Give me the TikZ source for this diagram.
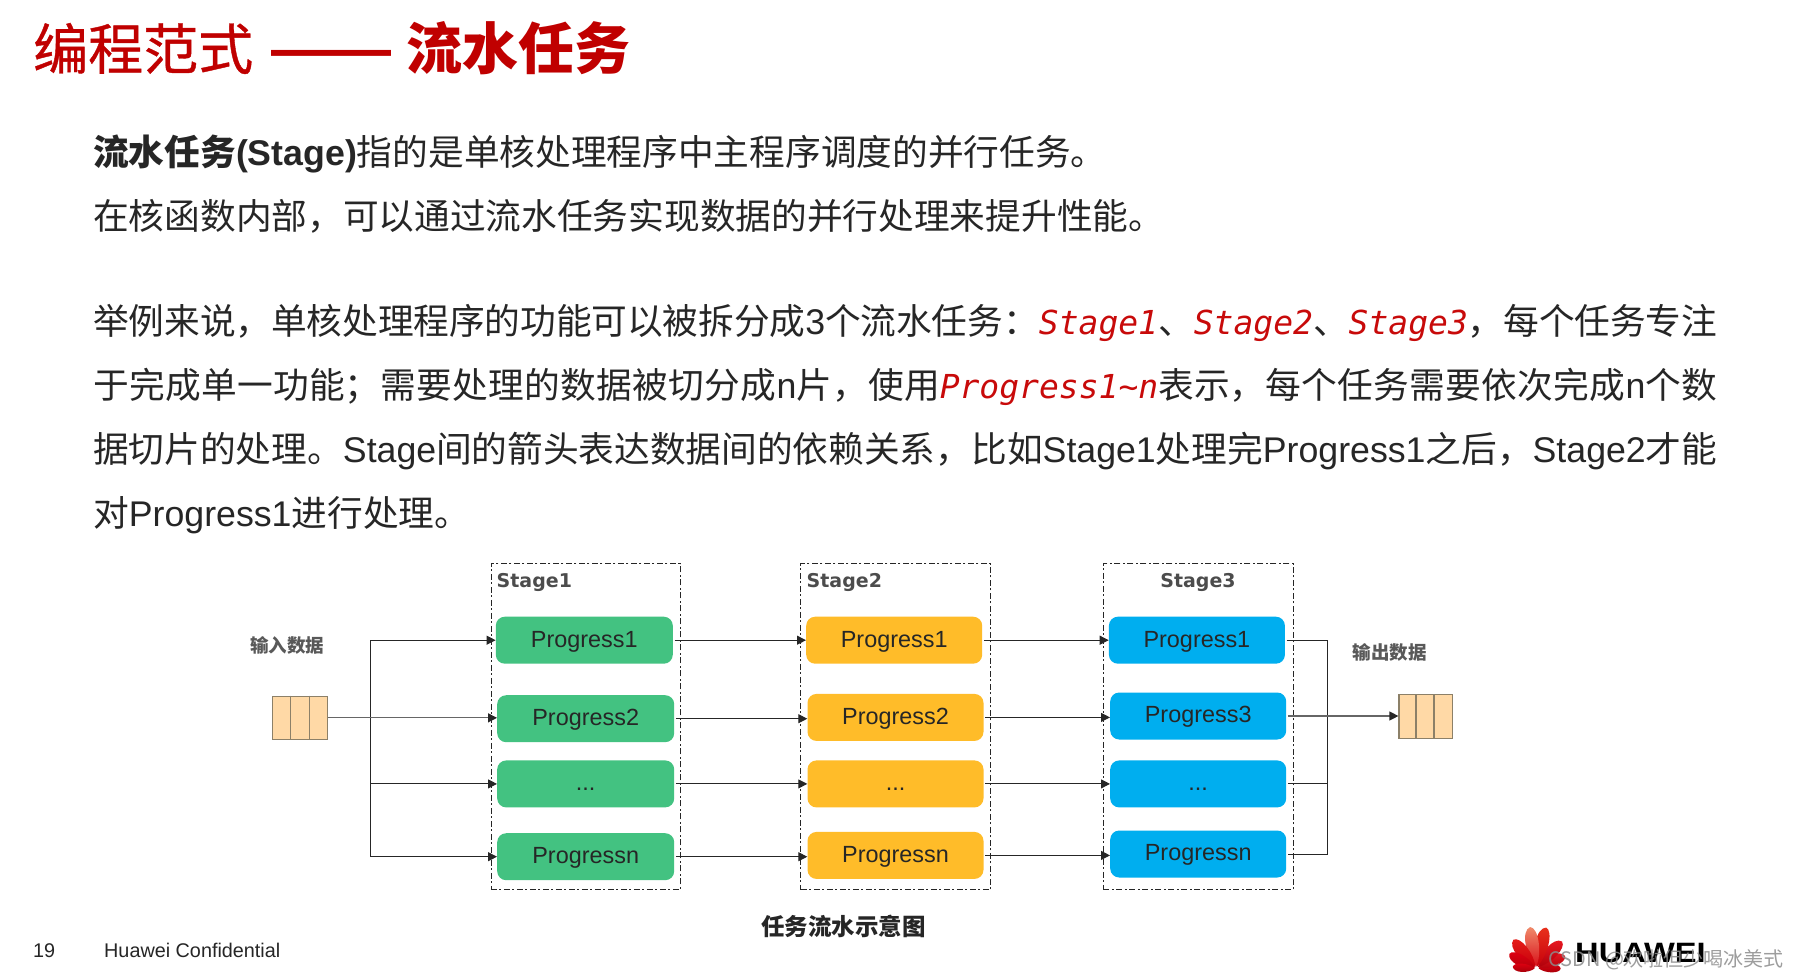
\documentclass[tikz,border=0pt]{standalone}
\usepackage{fontspec}
\usetikzlibrary{arrows.meta,calc}
\setmainfont{Noto Sans CJK SC}
\newfontfamily\latinf{Liberation Sans}
\newfontfamily\stagef{DejaVu Sans}
\newfontfamily\codef{DejaVu Sans Mono}
\newfontfamily\titlef[FakeBold=0.7]{Noto Sans CJK SC}
\XeTeXlinebreaklocale "zh"
\XeTeXlinebreakskip=0pt plus 3pt minus 1pt
\newcommand{\lt}[1]{{\latinf #1}}
\newcommand{\cod}[1]{{\codef\itshape\color{codered}\fontsize{33}{33}\selectfont #1}}
\newcommand{\just}[1]{\parbox[b]{1624pt}{\parfillskip=0pt #1}}
\definecolor{titlered}{HTML}{C00000}
\definecolor{codered}{HTML}{C80A0A}
\definecolor{bodyk}{HTML}{262626}
\definecolor{greenp}{HTML}{43C281}
\definecolor{yellowp}{HTML}{FFBC29}
\definecolor{bluep}{HTML}{00AEEF}
\definecolor{queuef}{HTML}{FFD9A6}
\definecolor{queued}{HTML}{8C8068}
\tikzset{
 x=1pt,y=-1pt,
 bodyline/.style={anchor=base west,inner sep=0pt,text=bodyk,font=\fontsize{35.7}{35.7}\selectfont},
 stagebox/.style={draw=black!85,line width=0.9pt,dash pattern=on 6pt off 2.5pt on 2pt off 2.5pt,inner sep=0pt,anchor=north west},
 prog/.style={rounded corners=9pt,inner sep=0pt,anchor=north west,text=black!85,text height=16.5pt,text depth=2.6pt,font=\latinf\fontsize{23.4}{23.4}\selectfont},
 stagelab/.style={inner sep=0pt,text=black!70,font=\stagef\bfseries\fontsize{19}{19}\selectfont},
 sidelab/.style={inner sep=0pt,text=black!65,font=\bfseries\fontsize{18.5}{19}\selectfont},
 conn/.style={draw=black!85,line width=1pt,-{Triangle[length=9pt,width=9pt,color=black!85]}},
 gconn/.style={draw=black!60,line width=1.2pt,-{Triangle[length=9pt,width=9pt,color=black!85]}},
 bus/.style={draw=black!85,line width=1pt},
 queue/.style={draw=queued,fill=queuef,line width=1.2pt,anchor=north west,inner sep=0pt},
 qdiv/.style={draw=queued,line width=1.2pt},
 foot/.style={anchor=base west,inner sep=0pt,text=black!85,font=\latinf\fontsize{19.8}{20}\selectfont},
}
\newcommand{\prognode}[6]{\node[prog,fill=#2,minimum width=#5pt,minimum height=47pt] (#1) at (#3,#4) {#6};}
\begin{document}
\begin{tikzpicture}
\useasboundingbox (0,0) rectangle (1797,980);
\fill[white] (0,0) rectangle (1797,980);
% title
\node[anchor=base west,inner sep=0pt,text=titlered,font=\fontsize{55}{55}\selectfont] (title) at (33,69.5) {{\titlef 编程范式}\hspace{18pt}{\latinf\bfseries\fontsize{60}{60}\selectfont ——}\hspace{15pt}{\fontsize{56}{56}\selectfont\bfseries 流水任务}};
% body
\node[bodyline] (l1) at (93,165) {\textbf{流水任务\lt{(Stage)}}指的是单核处理程序中主程序调度的并行任务。};
\node[bodyline] (l2) at (93,229.5) {在核函数内部，可以通过流水任务实现数据的并行处理来提升性能。};
\node[bodyline] (l3) at (93,334) {\just{举例来说，单核处理程序的功能可以被拆分成\lt{3}个流水任务：\cod{Stage1}、\cod{Stage2}、\cod{Stage3}，每个任务专注}};
\node[bodyline] (l4) at (93,398) {\just{于完成单一功能；需要处理的数据被切分成\lt{n}片，使用\cod{Progress1\textasciitilde n}表示，每个任务需要依次完成\lt{n}个数}};
\node[bodyline] (l5) at (93,462) {\just{据切片的处理。\lt{Stage}间的箭头表达数据间的依赖关系，比如\lt{Stage1}处理完\lt{Progress1}之后，\lt{Stage2}才能}};
\node[bodyline] (l6) at (93,526) {对\lt{Progress1}进行处理。};
% stage frames
\node[stagebox,minimum width=189.5pt,minimum height=326pt] (f1) at (490.5,563.3) {};
\node[stagebox,minimum width=190pt,minimum height=326pt] (f2) at (800.4,563.3) {};
\node[stagebox,minimum width=190pt,minimum height=326pt] (f3) at (1103,563.3) {};
\node[stagelab,anchor=west] (st1) at (496.5,582.5) {Stage1};
\node[stagelab,anchor=west] (st2) at (806.5,582.5) {Stage2};
\node[stagelab] (st3) at (1198,582.5) {Stage3};
% stage 1
\prognode{a1}{greenp}{495.6}{616.5}{177}{Progress1}
\prognode{a2}{greenp}{497}{695}{177}{Progress2}
\prognode{a3}{greenp}{497}{760.2}{177}{...}
\prognode{a4}{greenp}{497}{833}{177}{Progressn}
% stage 2
\prognode{b1}{yellowp}{806}{616.5}{176}{Progress1}
\prognode{b2}{yellowp}{807.3}{693.7}{176}{Progress2}
\prognode{b3}{yellowp}{807.3}{760.2}{176}{...}
\prognode{b4}{yellowp}{807.3}{831.7}{176}{Progressn}
% stage 3
\prognode{c1}{bluep}{1108.7}{616.5}{176}{Progress1}
\prognode{c2}{bluep}{1110}{692.3}{176}{Progress3}
\prognode{c3}{bluep}{1110}{760.2}{176}{...}
\prognode{c4}{bluep}{1110}{830.3}{176}{Progressn}
% queues
\node[queue,minimum width=55pt,minimum height=43.5pt] (qin) at (272,695.5) {};
\node[queue,minimum width=53.5pt,minimum height=43.5pt] (qout) at (1398.4,694) {};
\draw[qdiv] ($(qin.north west)!0.333!(qin.north east)$) -- ($(qin.south west)!0.333!(qin.south east)$);
\draw[qdiv] ($(qin.north west)!0.667!(qin.north east)$) -- ($(qin.south west)!0.667!(qin.south east)$);
\draw[qdiv] ($(qout.north west)!0.32!(qout.north east)$) -- ($(qout.south west)!0.32!(qout.south east)$);
\draw[qdiv] ($(qout.north west)!0.65!(qout.north east)$) -- ($(qout.south west)!0.65!(qout.south east)$);
% labels
\node[sidelab] (inl) at (287.4,645) {输入数据};
\node[sidelab] (outl) at (1389.7,652) {输出数据};
\node[inner sep=0pt,text=black!85,font=\bfseries\fontsize{23.5}{24}\selectfont] (cap) at (843.5,926) {任务流水示意图};
% input bus
\coordinate (bix) at (370.4,0);
\draw[bus] (bix |- a1.west) -- (bix |- a4.west);
\draw[conn] (bix |- a1.west) -- (a1.west);
\draw[gconn] (qin.east) -- (qin.east -| a2.west);
\draw[conn] (bix |- a3.west) -- (a3.west);
\draw[conn] (bix |- a4.west) -- (a4.west);
% stage links
\foreach \p/\q in {a1/b1,a2/b2,a3/b3,a4/b4,b1/c1,b2/c2,b3/c3,b4/c4}{
  \draw[conn] ([xshift=1.5pt]\p.east) -- (\p.east -| \q.west);
}
% output bus
\coordinate (box) at (1327.7,0);
\draw[bus] ([xshift=1.5pt]c1.east) -- (c1.east -| box) -- (c4.east -| box) -- ([xshift=1.5pt]c4.east);
\draw[bus] ([xshift=1.5pt]c3.east) -- (c3.east -| box);
\draw[gconn] ([xshift=1.5pt]c2.east) -- (c2.east -| qout.west);
% footer
\node[foot] (pg) at (33,957) {19};
\node[foot] (conf) at (104,957) {Huawei Confidential};
% logo
\begin{scope}[shift={(1536.7,968.5)}]
\foreach \a/\l/\w/\ca/\cb in {
 -88/24/6/E60012/A00008,-64/31/8/EE1C25/B0000A,-41/37/9/EE1C25/B0000A,-11/42/9.5/E8301C/C7000B,
 11/42/9.5/F08A6A/D8101A,41/37/9/E8201A/C7000B,64/31/8/E60012/B0000A,88/24/6/E60012/A00008}{
  \definecolor{pa}{HTML}{\ca}\definecolor{pb}{HTML}{\cb}
  \begin{scope}[rotate=\a]
  \shade[top color=pa,bottom color=pb] (0,-2) .. controls (0.9*\w,-0.35*\l) and (\w,-0.95*\l) .. (0.15*\w,-\l) .. controls (-0.9*\w,-0.95*\l) and (-0.9*\w,-0.35*\l) .. (0,-2);
  \end{scope}
}
\end{scope}
\node[anchor=base west,inner sep=0pt,text=black,font=\latinf\bfseries\fontsize{28}{28}\selectfont] (hw) at (1575,962) {\scalebox{1.165}[1]{HUAWEI}};
\node[anchor=base west,inner sep=0pt,text=black!45,opacity=0.85,font=\fontsize{20}{20}\selectfont] (wm) at (1548,966) {CSDN @欢啦但少喝冰美式};
\end{tikzpicture}
\end{document}
